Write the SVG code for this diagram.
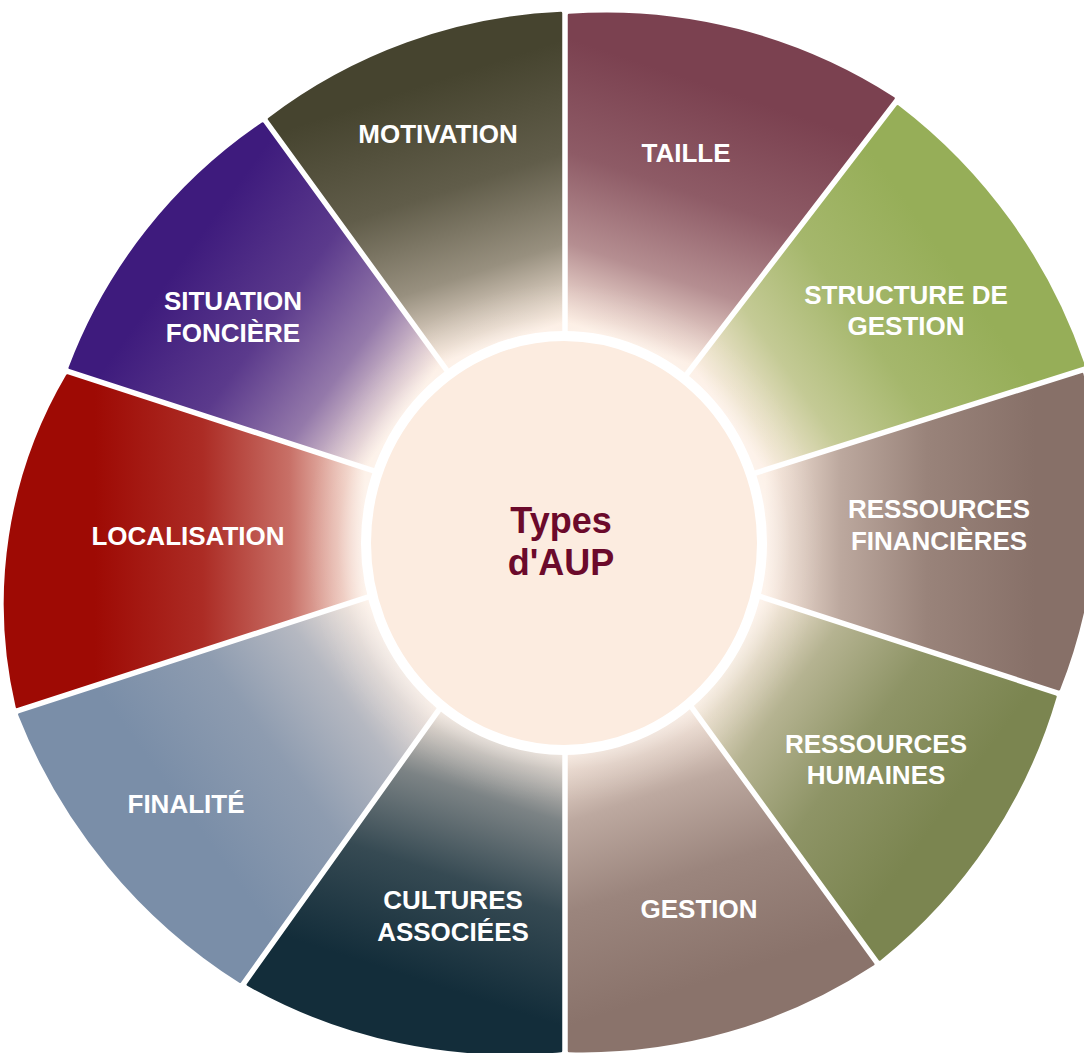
<svg xmlns="http://www.w3.org/2000/svg" width="1084" height="1053" viewBox="0 0 1084 1053">
<style>
.lbl{font-family:"Liberation Sans",Arial,Helvetica,sans-serif;font-weight:bold;font-size:26px;fill:#ffffff;text-anchor:middle}
.ctr{font-family:"Liberation Sans",Arial,Helvetica,sans-serif;font-weight:bold;font-size:36px;fill:#6b0a2b;text-anchor:middle}
.seg{stroke-width:2.5;stroke-linejoin:round}
</style>
<defs>
<linearGradient id="gMot" gradientUnits="userSpaceOnUse" x1="419.8" y1="86" x2="503.2" y2="342.8"><stop offset="0" stop-color="#46442f"/><stop offset="0.4" stop-color="#615d4a"/><stop offset="0.72" stop-color="#98907f"/><stop offset="1" stop-color="#fcece0"/></linearGradient>
<linearGradient id="gTai" gradientUnits="userSpaceOnUse" x1="716.1" y1="88" x2="629.3" y2="343.6"><stop offset="0" stop-color="#7b4150"/><stop offset="0.4" stop-color="#8e5b66"/><stop offset="0.72" stop-color="#b58e91"/><stop offset="1" stop-color="#fcece0"/></linearGradient>
<linearGradient id="gStr" gradientUnits="userSpaceOnUse" x1="950" y1="263.4" x2="728.8" y2="418.3"><stop offset="0" stop-color="#96ae58"/><stop offset="0.4" stop-color="#a5b76c"/><stop offset="0.72" stop-color="#c4ca95"/><stop offset="1" stop-color="#fcece0"/></linearGradient>
<linearGradient id="gRf" gradientUnits="userSpaceOnUse" x1="1035" y1="533" x2="765" y2="533"><stop offset="0" stop-color="#877068"/><stop offset="0.4" stop-color="#99837a"/><stop offset="0.72" stop-color="#bca89e"/><stop offset="1" stop-color="#fcece0"/></linearGradient>
<linearGradient id="gRh" gradientUnits="userSpaceOnUse" x1="945.2" y1="809.3" x2="726.8" y2="650.6"><stop offset="0" stop-color="#7b8550"/><stop offset="0.4" stop-color="#8e9466"/><stop offset="0.72" stop-color="#b5b391"/><stop offset="1" stop-color="#fcece0"/></linearGradient>
<linearGradient id="gGes" gradientUnits="userSpaceOnUse" x1="710.2" y1="980" x2="626.8" y2="723.2"><stop offset="0" stop-color="#8a736b"/><stop offset="0.4" stop-color="#9b857d"/><stop offset="0.72" stop-color="#bda9a0"/><stop offset="1" stop-color="#fcece0"/></linearGradient>
<linearGradient id="gCul" gradientUnits="userSpaceOnUse" x1="419.8" y1="980" x2="503.2" y2="723.2"><stop offset="0" stop-color="#132d3a"/><stop offset="0.4" stop-color="#364a53"/><stop offset="0.72" stop-color="#7c8385"/><stop offset="1" stop-color="#fcece0"/></linearGradient>
<linearGradient id="gFin" gradientUnits="userSpaceOnUse" x1="184.8" y1="809.3" x2="403.2" y2="650.6"><stop offset="0" stop-color="#7a8ea8"/><stop offset="0.4" stop-color="#8e9cb0"/><stop offset="0.72" stop-color="#b5b8c1"/><stop offset="1" stop-color="#fcece0"/></linearGradient>
<linearGradient id="gLoc" gradientUnits="userSpaceOnUse" x1="95" y1="533" x2="365" y2="533"><stop offset="0" stop-color="#9e0a04"/><stop offset="0.4" stop-color="#ac2c25"/><stop offset="0.72" stop-color="#c87067"/><stop offset="1" stop-color="#fcece0"/></linearGradient>
<linearGradient id="gSit" gradientUnits="userSpaceOnUse" x1="184.8" y1="256.7" x2="403.2" y2="415.4"><stop offset="0" stop-color="#3e1b7d"/><stop offset="0.4" stop-color="#5b3a8c"/><stop offset="0.72" stop-color="#9479aa"/><stop offset="1" stop-color="#fcece0"/></linearGradient>
<radialGradient id="glow" gradientUnits="userSpaceOnUse" cx="564" cy="543" r="260"><stop offset="0.78" stop-color="#ffffff" stop-opacity="0.4"/><stop offset="0.87" stop-color="#ffffff" stop-opacity="0.1"/><stop offset="1" stop-color="#ffffff" stop-opacity="0"/></radialGradient>
</defs>
<rect width="1084" height="1053" fill="#ffffff"/>
<g id="segments">
<g id="motivation"><path class="seg" d="M480,409.2 L269,118.9 A520,520 0 0 1 561,13 L561,383 Z" fill="url(#gMot)" stroke="url(#gMot)"/></g>
<g id="taille"><path class="seg" d="M569,383 L569,15 A530,530 0 0 1 893.6,98.2 L653.1,411.6 Z" fill="url(#gTai)" stroke="url(#gTai)"/></g>
<g id="structure"><path class="seg" d="M659.5,416.4 L897.6,106.2 A545,545 0 0 1 1083.6,365.3 L706.9,484.1 Z" fill="url(#gStr)" stroke="url(#gStr)"/></g>
<g id="ressources-financieres"><path class="seg" d="M709.3,491.7 L1082.2,374.1 A530,530 0 0 1 1058.9,689.3 L708.9,575.6 Z" fill="url(#gRf)" stroke="url(#gRf)"/></g>
<g id="ressources-humaines"><path class="seg" d="M706.5,583.2 L1055.5,696.6 A525,525 0 0 1 879.7,959.4 L656.4,652 Z" fill="url(#gRh)" stroke="url(#gRh)"/></g>
<g id="gestion"><path class="seg" d="M650,656.8 L873.3,964.2 A530,530 0 0 1 569,1051 L569,683 Z" fill="url(#gGes)" stroke="url(#gGes)"/></g>
<g id="cultures"><path class="seg" d="M561,683 L561,1051 A535,535 0 0 1 247.8,984.7 L481.2,657.4 Z" fill="url(#gCul)" stroke="url(#gCul)"/></g>
<g id="finalite"><path class="seg" d="M474.6,652.8 L240,981.7 A560,560 0 0 1 19.3,714.5 L423.5,583.2 Z" fill="url(#gFin)" stroke="url(#gFin)"/></g>
<g id="localisation"><path class="seg" d="M421.1,575.6 L16.9,706.9 A450,450 0 0 1 67.3,375.5 L421.1,490.4 Z" fill="url(#gLoc)" stroke="url(#gLoc)"/></g>
<g id="situation"><path class="seg" d="M423.5,482.8 L69.7,367.9 A515,515 0 0 1 262.6,123.6 L473.6,414 Z" fill="url(#gSit)" stroke="url(#gSit)"/></g>
</g>
<circle cx="564" cy="543" r="260" fill="url(#glow)"/>
<g id="center">
<ellipse cx="564" cy="543" rx="198" ry="207" fill="#fcece0" stroke="#ffffff" stroke-width="10"/>
<text class="ctr" x="561" y="533">Types</text>
<text class="ctr" x="561" y="575">d'AUP</text>
</g>
<g id="labels">
<text class="lbl" x="438" y="143">MOTIVATION</text>
<text class="lbl" x="686" y="162">TAILLE</text>
<text class="lbl" x="906" y="304">STRUCTURE DE</text>
<text class="lbl" x="906" y="335">GESTION</text>
<text class="lbl" x="939" y="518">RESSOURCES</text>
<text class="lbl" x="939" y="550">FINANCIÈRES</text>
<text class="lbl" x="876" y="753">RESSOURCES</text>
<text class="lbl" x="876" y="784">HUMAINES</text>
<text class="lbl" x="699" y="918">GESTION</text>
<text class="lbl" x="453" y="909">CULTURES</text>
<text class="lbl" x="453" y="941">ASSOCIÉES</text>
<text class="lbl" x="186" y="813">FINALITÉ</text>
<text class="lbl" x="188" y="545">LOCALISATION</text>
<text class="lbl" x="233" y="310">SITUATION</text>
<text class="lbl" x="233" y="342">FONCIÈRE</text>
</g>
</svg>
